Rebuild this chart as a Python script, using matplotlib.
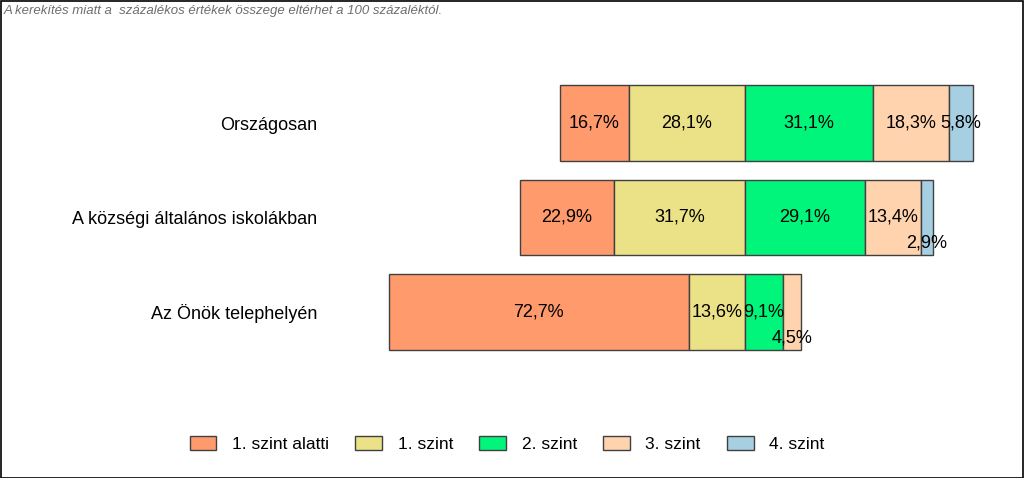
import matplotlib.pyplot as plt
from matplotlib.patches import Rectangle

plt.rcParams['font.family'] = ['Liberation Sans', 'DejaVu Sans']

groups = ["Országosan", "A községi általános iskolákban", "Az Önök telephelyén"]
levels = ["1. szint alatti", "1. szint", "2. szint", "3. szint", "4. szint"]
colors = ["#FF9A6C", "#EBE186", "#00F57A", "#FFD3AE", "#A6CFE2"]

below1 = [16.7, 22.9, 72.7]
level1 = [28.1, 31.7, 13.6]
level2 = [31.1, 29.1, 9.1]
level3 = [18.3, 13.4, 4.5]
level4 = [5.8, 2.9, 0.0]

note = "A kerekítés miatt a  százalékos értékek összege eltérhet a 100 százaléktól."


def main():
    fig = plt.figure(figsize=(10.24, 4.78), dpi=100)
    W, H = 1024, 478
    # axes placed in pixel units
    left, right, top, bottom = 330, 1010, 70, 365
    ax = fig.add_axes([left / W, 1 - bottom / H, (right - left) / W, (bottom - top) / H])
    px = 4.13
    ax.set_xlim((left - 745) / px, (right - 745) / px)
    ax.set_ylim(2.561, -0.561)

    series = [below1, level1, level2, level3, level4]
    y = list(range(len(groups)))
    for i, g in enumerate(groups):
        # left side: 1. szint alatti + 1. szint, right side: 2-4
        starts = [-(below1[i] + level1[i]), -level1[i], 0,
                  level2[i], level2[i] + level3[i]]
        for k, s in enumerate(series):
            v = s[i]
            if v <= 0:
                continue
            ax.barh(y[i], v, left=starts[k], height=0.80, color=colors[k],
                    edgecolor="#404040", linewidth=1.0,
                    label=levels[k] if i == 0 else None)
            dy = 0.27 if v < 5 else 0
            ax.text(starts[k] + v / 2, y[i] + dy, f"{v:.1f}%".replace(".", ","),
                    ha="center", va="center", fontsize=13, color="black")

    ax.set_yticks(y)
    ax.set_yticklabels(groups, fontsize=13)
    ax.tick_params(axis="y", length=0, pad=9)
    ax.set_xticks([])
    for sp in ax.spines.values():
        sp.set_visible(False)

    handles = [Rectangle((0, 0), 1, 1, facecolor=c, edgecolor="#404040", linewidth=1)
               for c in colors]
    fig.legend(handles, levels, loc="center", bbox_to_anchor=(507 / W, 1 - 444 / H),
               ncol=5, frameon=False, fontsize=12.5, handlelength=1.55,
               handleheight=0.92, columnspacing=1.5, handletextpad=0.9)

    fig.text(4 / W, 1 - 11 / H, note, fontsize=9.5, style="italic", color="#6E6E6E",
             ha="left", va="center")
    fig.patches.append(Rectangle((0.5 / W, 0.5 / H), 1 - 1.5 / W, 1 - 1.5 / H,
                                 transform=fig.transFigure, fill=False,
                                 edgecolor="black", linewidth=1.2))
    fig.savefig("out.png", dpi=100)


if __name__ == "__main__":
    main()
